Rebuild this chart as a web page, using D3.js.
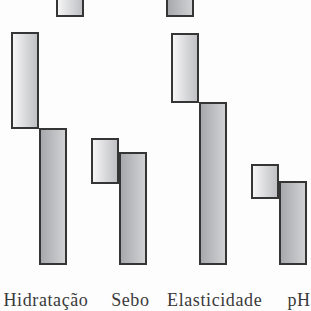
<!DOCTYPE html>
<html>
<head>
<meta charset="utf-8">
<script src="https://cdn.jsdelivr.net/npm/d3@7"></script>
<style>
  html, body { margin: 0; padding: 0; background: #fdfdfd; }
  svg { display: block; }
</style>
</head>
<body>
<svg id="chart" width="311" height="311"></svg>
<script>
/** categories and values (chart units, baseline = 0) **/
var categories = ["Hidratação", "Sebo", "Elasticidade", "pH"];
var lightLow  = [136, 81, 162, 66];   // floating light bar: bottom
var lightHigh = [231, 125, 230, 99];  // floating light bar: top
var darkHigh  = [135, 111, 161, 82];  // dark bar from baseline

/** bars of the panel above, cut off by the top edge **/
var topFragment = ["a", "b"];
var topLow = [248, 248];
var topHigh = [300, 300];
var topKind = ["light", "dark"];

var svg = d3.select("#chart");
var width = 311, height = 311;

/** scales **/
var x = d3.scaleBand()
    .domain(categories)
    .range([11, 307])
    .paddingInner(0.3)
    .paddingOuter(0);

var xSub = d3.scaleBand()
    .domain(["light", "dark"])
    .range([0, x.bandwidth()]);

var xTop = d3.scaleBand()
    .domain(topFragment)
    .range([56, 194])
    .paddingInner(82 / 110)
    .paddingOuter(0);

var y = d3.scaleLinear()
    .domain([0, 264])
    .range([264, 0]);

/** gradients **/
var defs = svg.append("defs");
var gLight = defs.append("linearGradient").attr("id", "gLight")
    .attr("x1", "0").attr("x2", "1").attr("y1", "0").attr("y2", "0");
gLight.append("stop").attr("offset", "0").attr("stop-color", "#f7f7f8");
gLight.append("stop").attr("offset", "1").attr("stop-color", "#bebfc2");

var gDark = defs.append("linearGradient").attr("id", "gDark")
    .attr("x1", "0").attr("x2", "1").attr("y1", "0").attr("y2", "0");
gDark.append("stop").attr("offset", "0").attr("stop-color", "#a6a7aa");
gDark.append("stop").attr("offset", "1").attr("stop-color", "#d2d3d5");

var stroke = "#353535";

/** cut-off bars at the top **/
svg.selectAll(".topbar")
    .data(topFragment)
    .enter()
    .append("rect")
    .attr("class", "topbar")
    .attr("x", function (d) { return xTop(d) + 1; })
    .attr("y", function (d, i) { return y(topHigh[i]); })
    .attr("width", xTop.bandwidth() - 2)
    .attr("height", function (d, i) { return y(topLow[i]) - y(topHigh[i]); })
    .attr("fill", function (d, i) { return topKind[i] === "light" ? "url(#gLight)" : "url(#gDark)"; })
    .attr("stroke", stroke)
    .attr("stroke-width", 2);

/** dark bars **/
svg.selectAll(".dark")
    .data(categories)
    .enter()
    .append("rect")
    .attr("class", "dark")
    .attr("x", function (d) { return x(d) + xSub("dark") + 1; })
    .attr("y", function (d, i) { return y(darkHigh[i]); })
    .attr("width", xSub.bandwidth() - 2)
    .attr("height", function (d, i) { return y(0) - y(darkHigh[i]); })
    .attr("fill", "url(#gDark)")
    .attr("stroke", stroke)
    .attr("stroke-width", 2);

/** floating light bars **/
svg.selectAll(".light")
    .data(categories)
    .enter()
    .append("rect")
    .attr("class", "light")
    .attr("x", function (d) { return x(d) + xSub("light") + 1; })
    .attr("y", function (d, i) { return y(lightHigh[i]); })
    .attr("width", xSub.bandwidth() - 2)
    .attr("height", function (d, i) { return y(lightLow[i]) - y(lightHigh[i]); })
    .attr("fill", "url(#gLight)")
    .attr("stroke", stroke)
    .attr("stroke-width", 2);

/** category labels **/
var xLabel = d3.scalePoint()
    .domain(categories)
    .range([46, 299]);

svg.selectAll(".label")
    .data(categories)
    .enter()
    .append("text")
    .attr("class", "label")
    .attr("x", function (d) { return xLabel(d); })
    .attr("y", 306)
    .attr("text-anchor", "middle")
    .style("font-family", "'Liberation Serif', 'DejaVu Serif', serif")
    .style("font-size", "18px")
    .style("letter-spacing", "0.6px")
    .style("fill", "#3a3a3a")
    .text(function (d) { return d; });
</script>
</body>
</html>
